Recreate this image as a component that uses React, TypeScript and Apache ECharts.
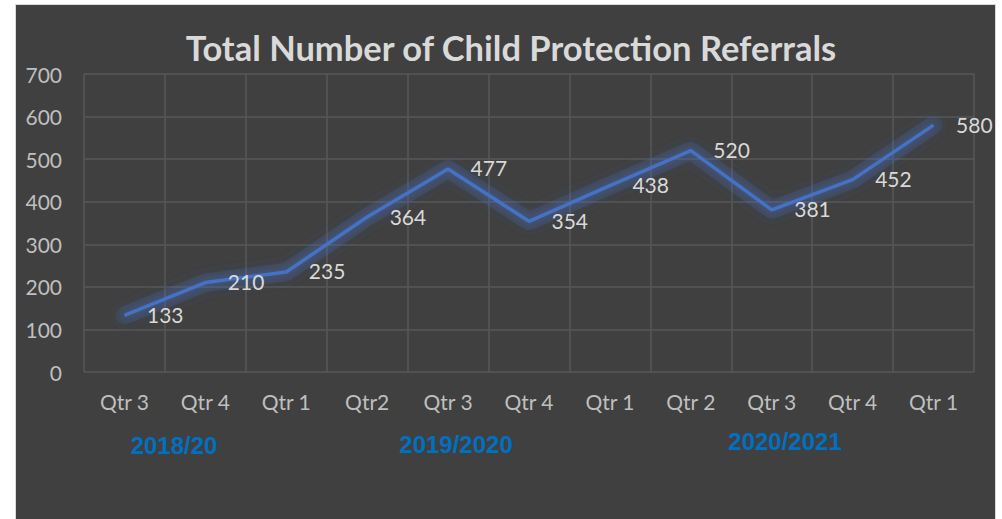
import React, { useEffect, useRef } from "react";
import * as echarts from "echarts";

const title = "Total Number of Child Protection Referrals";
const quarters = ["Qtr 3", "Qtr 4", "Qtr 1", "Qtr2", "Qtr 3", "Qtr 4", "Qtr 1", "Qtr 2", "Qtr 3", "Qtr 4", "Qtr 1"];
const referrals = [133, 210, 235, 364, 477, 354, 438, 520, 381, 452, 580];
const yearLabels = ["2018/20", "2019/2020", "2020/2021"];
const yearLabelX = [174, 456, 785];
const yearLabelY = [445, 444, 441];

export default function App() {
  const ref = useRef<HTMLDivElement>(null);
  useEffect(() => {
    if (!ref.current) return;
    const chart = echarts.init(ref.current, null, { renderer: "svg" });
    const font = "Lato, 'Open Sans', sans-serif";
    chart.setOption({
      animation: false,
      backgroundColor: "transparent",
      title: {
        text: title,
        left: 506,
        top: 25,
        textAlign: "center",
        textStyle: { color: "#d9d9d9", fontSize: 34.5, fontWeight: "bold", fontFamily: font },
      },
      grid: { left: 84, right: 28, top: 74, bottom: 147, containLabel: false },
      xAxis: {
        type: "category",
        data: quarters,
        boundaryGap: true,
        axisLine: { show: false },
        axisTick: { show: false },
        axisLabel: { color: "#bfbfbf", fontSize: 21, fontFamily: font, margin: 19, interval: 0 },
        splitLine: { show: true, interval: 0, lineStyle: { color: "#575757", width: 1.5 } },
      },
      yAxis: {
        type: "value",
        min: 0,
        max: 700,
        interval: 100,
        axisLine: { show: false },
        axisTick: { show: false },
        axisLabel: { color: "#bfbfbf", fontSize: 21, fontFamily: font, margin: 22 },
        splitLine: { show: true, lineStyle: { color: "#575757", width: 1.5 } },
      },
      graphic: yearLabels.map((t, i) => ({
        type: "text",
        x: yearLabelX[i],
        y: yearLabelY[i],
        style: {
          text: t,
          fill: "#0070c0",
          font: "bold 24px 'Liberation Sans', Arial, sans-serif",
          textAlign: "center",
          textVerticalAlign: "middle",
        },
      })),
      series: [
        {
          type: "line",
          name: "glow",
          data: referrals,
          symbol: "none",
          silent: true,
          lineStyle: {
            color: "rgba(68,114,196,0.16)",
            width: 18,
            shadowBlur: 14,
            shadowColor: "rgba(68,114,196,0.45)",
            cap: "round",
            join: "round",
          },
          z: 1,
        },
        {
          type: "line",
          name: "Referrals",
          data: referrals,
          symbol: "circle",
          symbolSize: 1,
          showSymbol: true,
          itemStyle: { color: "rgba(68,114,196,0)" },
          lineStyle: {
            color: "#4472c4",
            width: 3.5,
            shadowBlur: 10,
            shadowColor: "rgba(68,114,196,0.7)",
          },
          label: {
            show: true,
            position: "right",
            distance: 22,
            offset: [0, -1],
            color: "#d9d9d9",
            fontSize: 21,
            fontFamily: font,
          },
          z: 3,
        },
      ],
    });
    return () => chart.dispose();
  }, []);
  return (
    <div style={{ position: "fixed", left: 0, top: 0, width: 1002, height: 519, background: "#ffffff" }}>
      <div
        style={{
          position: "absolute",
          left: 15,
          top: 4,
          width: 981,
          height: 520,
          background: "#404040",
          border: "1px solid #d9d9d9",
          boxSizing: "border-box",
        }}
      />
      <div ref={ref} style={{ position: "absolute", left: 0, top: 0, width: 1002, height: 519 }} />
    </div>
  );
}
